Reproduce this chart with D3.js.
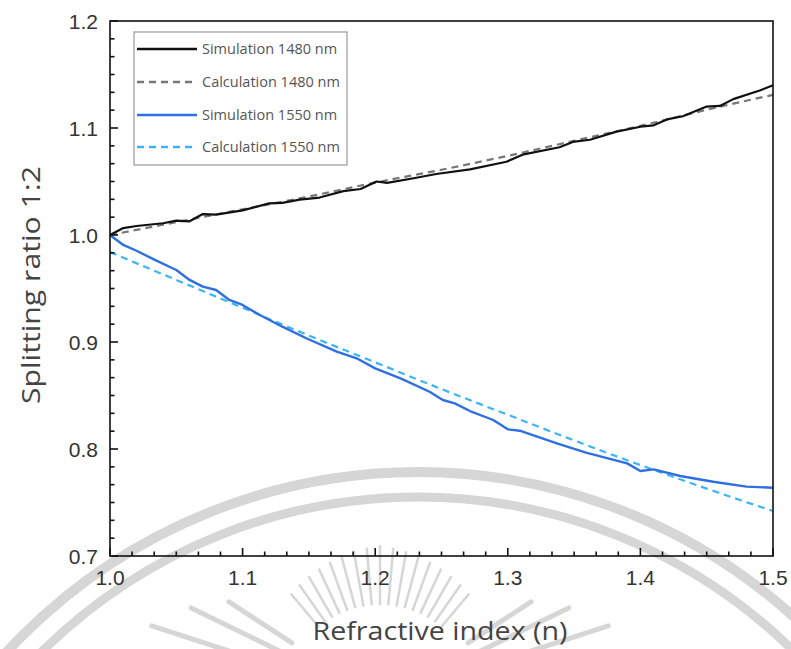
<!DOCTYPE html>
<html><head><meta charset="utf-8">
<script src="https://cdn.jsdelivr.net/npm/d3@7"></script>
<style>body{margin:0;background:#fff}svg{display:block}</style>
</head><body>
<svg id="c" width="791" height="649"></svg>
<script>
// ---- data ----
const sim1480N = [1.0,1.01,1.02,1.04,1.05,1.06,1.07,1.08,1.1,1.12,1.13,1.143,1.158,1.176,1.189,1.201,1.209,1.229,1.246,1.2715,1.299,1.312,1.339,1.349,1.362,1.382,1.40,1.41,1.42,1.432,1.45,1.46,1.47,1.49,1.5];
const sim1480V = [1.0,1.0065,1.0084,1.011,1.0134,1.0128,1.0196,1.019,1.023,1.0296,1.030,1.033,1.035,1.041,1.043,1.050,1.0487,1.053,1.057,1.0614,1.0685,1.0754,1.082,1.087,1.089,1.0966,1.1012,1.1025,1.108,1.111,1.120,1.1206,1.127,1.135,1.140];
const sim1550N = [1.0,1.01,1.02,1.035,1.05,1.06,1.07,1.08,1.09,1.1,1.113,1.13,1.148,1.171,1.186,1.2,1.22,1.241,1.251,1.26,1.2715,1.289,1.3,1.309,1.337,1.359,1.39,1.4,1.41,1.43,1.455,1.48,1.5];
const sim1550V = [1.0,0.9907,0.9853,0.976,0.9673,0.958,0.9517,0.9486,0.9393,0.9346,0.9252,0.9143,0.9035,0.891,0.8848,0.8754,0.8655,0.8535,0.8458,0.8427,0.8355,0.8271,0.8184,0.8171,0.8053,0.7966,0.7866,0.7794,0.781,0.7748,0.7694,0.7648,0.7638];
const calcN = [1.0,1.05,1.1,1.15,1.2,1.25,1.3,1.35,1.4,1.45,1.5];
const calc1480V = [1.0,1.012,1.024,1.036,1.049,1.061,1.074,1.088,1.102,1.117,1.131];
const calc1550V = [0.984,0.958,0.932,0.906,0.881,0.856,0.832,0.808,0.785,0.763,0.742];
const xTicks = [1.0,1.1,1.2,1.3,1.4,1.5];
const yTicks = [0.7,0.8,0.9,1.0,1.1,1.2];
const seriesNames = ["Simulation 1480 nm","Calculation 1480 nm","Simulation 1550 nm","Calculation 1550 nm"];

const svg = d3.select("#c");
const L = 110, R = 773, T = 21, B = 556;
const x = d3.scaleLinear().domain([1.0,1.5]).range([L,R]);
const y = d3.scaleLinear().domain([0.7,1.2]).range([B,T]);

// ---- watermark (decorative) ----
const wm = svg.append("g").attr("fill","none").attr("stroke","#d6d6d6");
const cx0 = 418, cy0 = 1032;
[[560,10],[535,9]].forEach(([r,w])=>{
  wm.append("circle").attr("cx",cx0).attr("cy",cy0).attr("r",r).attr("stroke-width",w);
});
const rc = [380, 700];
d3.range(-40, 41, 5).forEach(a=>{
  const t = a*Math.PI/180;
  const r1 = 95, r2 = 155 - Math.abs(a)*0.4;
  wm.append("line")
    .attr("x1", rc[0]+r1*Math.sin(t)).attr("y1", rc[1]-r1*Math.cos(t))
    .attr("x2", rc[0]+r2*Math.sin(t)).attr("y2", rc[1]-r2*Math.cos(t))
    .attr("stroke-width",2.5);
});
[[-72,120,240],[-64,110,210],[-57,105,180],[72,120,240],[64,110,210],[57,105,180]].forEach(([a,r1,r2])=>{
  const t = a*Math.PI/180;
  wm.append("line")
    .attr("x1", rc[0]+r1*Math.sin(t)).attr("y1", rc[1]-r1*Math.cos(t))
    .attr("x2", rc[0]+r2*Math.sin(t)).attr("y2", rc[1]-r2*Math.cos(t))
    .attr("stroke-width",5).attr("stroke-linecap","round");
});

// ---- lines ----
const toPts = (N,V)=>N.map((n,i)=>[n,V[i]]);
const lin = d3.line().x(d=>x(d[0])).y(d=>y(d[1]));
const smooth = d3.line().x(d=>x(d[0])).y(d=>y(d[1])).curve(d3.curveMonotoneX);
const styles = [
  {c:"#111111", dash:null, w:2.2},
  {c:"#777777", dash:"7,5", w:2.2},
  {c:"#2f70e0", dash:null, w:2.4},
  {c:"#3bb4f6", dash:"7,5", w:2.2}
];
const plotG = svg.append("g").attr("fill","none");
plotG.append("path").datum(toPts(calcN,calc1480V)).attr("d",smooth)
  .attr("stroke",styles[1].c).attr("stroke-width",styles[1].w).attr("stroke-dasharray",styles[1].dash);
plotG.append("path").datum(toPts(sim1480N,sim1480V)).attr("d",lin)
  .attr("stroke",styles[0].c).attr("stroke-width",styles[0].w).attr("stroke-linejoin","round");
plotG.append("path").datum(toPts(calcN,calc1550V)).attr("d",smooth)
  .attr("stroke",styles[3].c).attr("stroke-width",styles[3].w).attr("stroke-dasharray",styles[3].dash);
plotG.append("path").datum(toPts(sim1550N,sim1550V)).attr("d",lin)
  .attr("stroke",styles[2].c).attr("stroke-width",styles[2].w).attr("stroke-linejoin","round");

// ---- axes ----
const minorX = d3.range(0,31).map(i=>1.0+i*0.5/30);
const minorY = d3.range(0,31).map(i=>0.7+i*0.5/30);
const axG = svg.append("g").attr("stroke","#111").attr("stroke-width",1.6);
axG.append("rect").attr("x",L).attr("y",T).attr("width",R-L).attr("height",B-T).attr("fill","none");
minorX.forEach(v=>{
  const major = xTicks.some(t=>Math.abs(t-v)<1e-6);
  axG.append("line").attr("x1",x(v)).attr("x2",x(v)).attr("y1",B).attr("y2",B-(major?8:4.5));
});
minorY.forEach(v=>{
  const major = yTicks.some(t=>Math.abs(t-v)<1e-6);
  axG.append("line").attr("y1",y(v)).attr("y2",y(v)).attr("x1",L).attr("x2",L+(major?8:4.5));
});
const tf = d3.format(".1f");
svg.append("g").selectAll("text").data(xTicks).join("text")
  .attr("x",d=>x(d)).attr("y",B+29).attr("text-anchor","middle")
  .attr("font-family","Liberation Sans, Arial, sans-serif").attr("font-size",21).attr("fill","#333")
  .text(tf);
svg.append("g").selectAll("text").data(yTicks).join("text")
  .attr("x",L-12).attr("y",d=>y(d)+7.5).attr("text-anchor","end")
  .attr("font-family","Liberation Sans, Arial, sans-serif").attr("font-size",21).attr("fill","#333")
  .text(tf);

svg.append("text").attr("x",440).attr("y",640).attr("text-anchor","middle")
  .attr("font-family","Open Sans, Noto Sans, sans-serif").attr("font-size",25).attr("fill","#444")
  .attr("textLength",255).attr("lengthAdjust","spacingAndGlyphs")
  .text("Refractive index (n)");
svg.append("text").attr("transform","translate(40,285) rotate(-90)").attr("text-anchor","middle")
  .attr("font-family","Open Sans, Noto Sans, sans-serif").attr("font-size",26).attr("fill","#444")
  .attr("textLength",238).attr("lengthAdjust","spacingAndGlyphs")
  .text("Splitting ratio 1:2");

// ---- legend ----
const lg = svg.append("g");
lg.append("rect").attr("x",134).attr("y",32).attr("width",213).attr("height",133)
  .attr("fill","#fff").attr("stroke","#999").attr("stroke-width",1.2);
const rowsY = [49,82,115,147];
seriesNames.forEach((name,i)=>{
  lg.append("line").attr("x1",137).attr("x2",197).attr("y1",rowsY[i]).attr("y2",rowsY[i])
    .attr("stroke",styles[i].c).attr("stroke-width",2.4).attr("stroke-dasharray",styles[i].dash);
  lg.append("text").attr("x",202).attr("y",rowsY[i]+5)
    .attr("font-family","Open Sans, Noto Sans, sans-serif").attr("font-size",14.5).attr("fill","#555")
    .text(name);
});
</script>
</body></html>
